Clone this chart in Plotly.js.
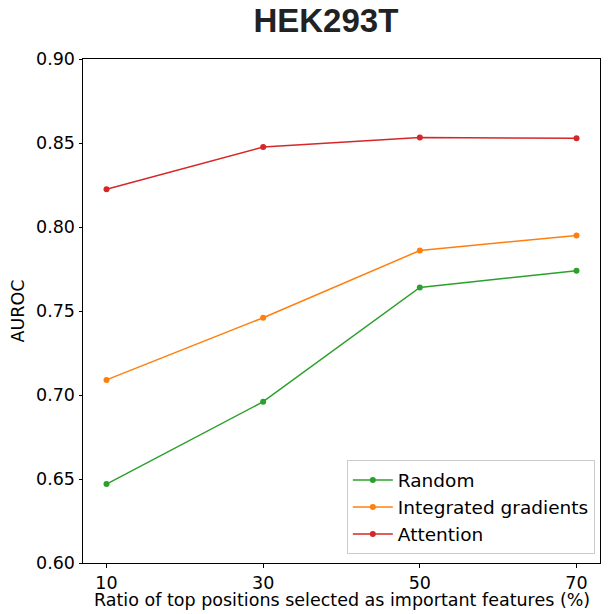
<!DOCTYPE html>
<html><head><meta charset="utf-8">
<script src="https://cdn.plot.ly/plotly-3.0.1.min.js"></script>
<style>body{margin:0;background:#fff}#c{width:616px;height:614px}</style>
</head><body><div id="c"></div>
<script>
const ratios = [10, 30, 50, 70];
const randomVals = [0.647, 0.696, 0.764, 0.774];
const igVals = [0.709, 0.746, 0.786, 0.795];
const attnVals = [0.8225, 0.8476, 0.8532, 0.8528];
const yTicks = [0.60, 0.65, 0.70, 0.75, 0.80, 0.85, 0.90];

function tr(name, y, color) {
  return {x: ratios, y: y, name: name, type: 'scatter', mode: 'lines+markers',
    line: {color: color, width: 1.5}, marker: {color: color, size: 6}};
}
const data = [
  tr('Random', randomVals, '#2ca02c'),
  tr('Integrated gradients', igVals, '#ff7f0e'),
  tr('Attention', attnVals, '#d62728')
];
const layout = {
  width: 616, height: 614,
  margin: {l: 83, r: 16, t: 59, b: 51},
  paper_bgcolor: '#fff', plot_bgcolor: '#fff',
  font: {family: 'DejaVu Sans', size: 17.5, color: '#000'},
  title: {text: '<b>HEK293T</b>', font: {family: 'Liberation Sans', size: 33, color: '#222'},
    x: 0.529, xanchor: 'center', y: 0.985, yanchor: 'top'},
  xaxis: {range: [7, 73], tickvals: ratios, ticktext: ratios.map(String),
    tickfont: {size: 17.5},
    ticks: 'outside', ticklen: 3.5, tickwidth: 1, tickcolor: '#000',
    showgrid: false, zeroline: false, showline: true, linecolor: '#000', linewidth: 1, mirror: true},
  yaxis: {range: [0.60, 0.90], tickvals: yTicks, ticktext: yTicks.map(v => v.toFixed(2)),
    tickfont: {size: 17.5},
    ticks: 'outside', ticklen: 3.5, tickwidth: 1, tickcolor: '#000',
    showgrid: false, zeroline: false, showline: true, linecolor: '#000', linewidth: 1, mirror: true,
    title: {text: 'AUROC', standoff: 6, font: {size: 17.5}}},
  annotations: [{text: 'Ratio of top positions selected as important features (%)',
    xref: 'paper', yref: 'paper', x: 0.5, y: -0.05, xanchor: 'center', yanchor: 'top',
    showarrow: false, font: {size: 17.5}}],
  legend: {x: 0.99, y: 0.017, xanchor: 'right', yanchor: 'bottom',
    bgcolor: 'rgba(255,255,255,0.8)', bordercolor: '#ccc', borderwidth: 1,
    font: {size: 18.5}, tracegroupgap: 0, itemwidth: 40},
  showlegend: true
};
Plotly.newPlot('c', data, layout, {displayModeBar: false});
</script></body></html>
